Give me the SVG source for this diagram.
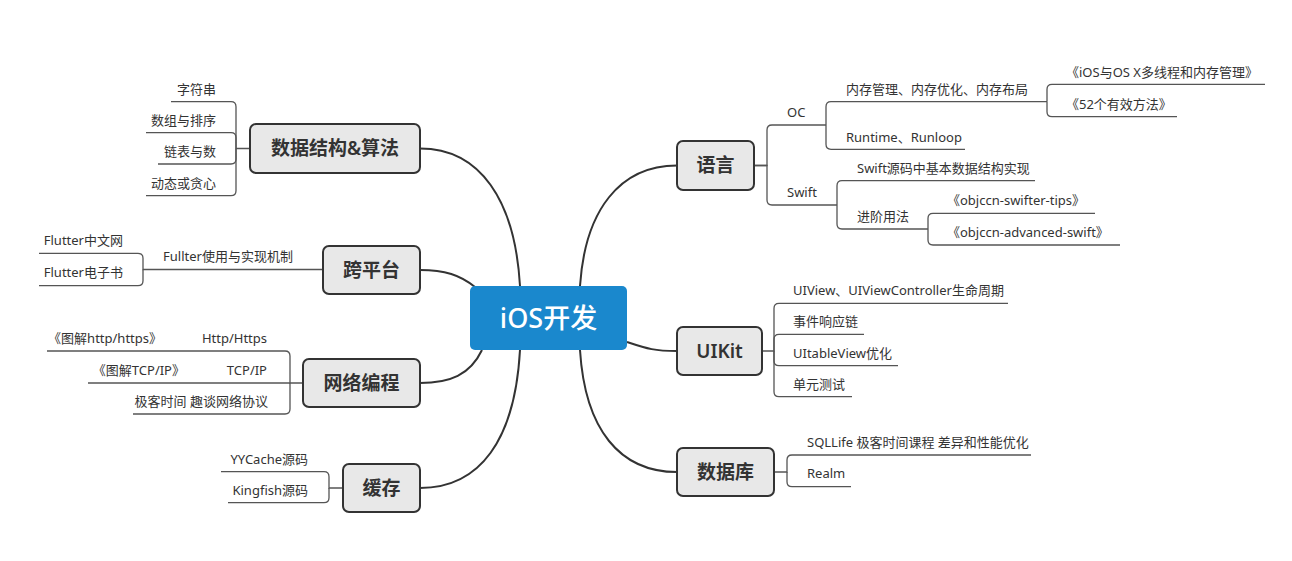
<svg xmlns="http://www.w3.org/2000/svg" width="1292" height="561" viewBox="0 0 1292 561">
<style>
text{font-family:"Noto Sans","Noto Sans CJK SC",sans-serif;fill:#333;}
.sub{font-size:13px;}
.l{text-anchor:end;}
.topic rect{fill:#e8e8e8;stroke:#333;stroke-width:2;}
.topic text{font-size:19px;font-weight:600;text-anchor:middle;}
.main{fill:none;stroke:#333;stroke-width:2;}
.br{fill:none;stroke:#555;stroke-width:1.3;}
</style>
<rect width="1292" height="561" fill="#fff"/>
<g id="connectors">
<path class="main" d="M580,286 C585,210 620,165.5 677,165.5"/>
<path class="main" d="M627,342 C648,349 655,351 677,351"/>
<path class="main" d="M580,350 C585,430 620,472 677,472"/>
<path class="main" d="M520,286 C515,200 480,148.5 420,148.5"/>
<path class="main" d="M475,287 C460,275 445,270 420,270"/>
<path class="main" d="M482,350 C470,375 450,383 420,383"/>
<path class="main" d="M520,350 C515,440 480,488 420,488"/>
<path class="br" d="M754,165.5 H767 V130 Q767,125 772,125 H826"/>
<path class="br" d="M754,165.5 H767 V200 Q767,205 772,205 H837"/>
<path class="br" d="M826,125 V106.7 Q826,101.7 831,101.7 H1047"/>
<path class="br" d="M826,125 V144.3 Q826,149.3 831,149.3 H965"/>
<path class="br" d="M1047,101.7 V89.3 Q1047,84.3 1052,84.3 H1265"/>
<path class="br" d="M1047,101.7 V111.7 Q1047,116.7 1052,116.7 H1177"/>
<path class="br" d="M837,205 V185.7 Q837,180.7 842,180.7 H1035"/>
<path class="br" d="M837,205 V224 Q837,229 842,229 H928"/>
<path class="br" d="M928,229 V218.3 Q928,213.3 933,213.3 H1095"/>
<path class="br" d="M928,229 V240 Q928,245 933,245 H1120"/>
<path class="br" d="M762,351 H774 V308.3 Q774,303.3 779,303.3 H1008"/>
<path class="br" d="M774,351 V339.3 Q774,334.3 779,334.3 H864"/>
<path class="br" d="M774,351 V360.7 Q774,365.7 779,365.7 H898"/>
<path class="br" d="M774,351 V391.7 Q774,396.7 779,396.7 H852"/>
<path class="br" d="M774,472 H787 V460 Q787,455 792,455 H1031"/>
<path class="br" d="M787,472 V481.7 Q787,486.7 792,486.7 H851"/>
<path class="br" d="M250,148.5 H236 V106.7 Q236,101.7 231,101.7 H171"/>
<path class="br" d="M236,148.5 V137.7 Q236,132.7 231,132.7 H146"/>
<path class="br" d="M236,148.5 V159 Q236,164 231,164 H158"/>
<path class="br" d="M236,148.5 V190.7 Q236,195.7 231,195.7 H146"/>
<path class="br" d="M323,269.5 H143 V258.3 Q143,253.3 138,253.3 H39"/>
<path class="br" d="M143,269.5 V280.7 Q143,285.7 138,285.7 H39"/>
<path class="br" d="M303,383 H290 V356 Q290,351 285,351 H47"/>
<path class="br" d="M290,383 H88"/>
<path class="br" d="M290,383 V409 Q290,414 285,414 H133"/>
<path class="br" d="M343,488 H329 V476.7 Q329,471.7 324,471.7 H221"/>
<path class="br" d="M329,488 V497.7 Q329,502.7 324,502.7 H228"/>
</g>
<g id="root">
<rect x="470" y="286" width="157" height="64" rx="5" fill="#1a88cd"/>
<text x="548.5" y="327.5" style="font-size:27px;font-weight:500;fill:#fff;text-anchor:middle;">iOS开发</text>
</g>
<g id="yuyan" class="topic"><rect x="677" y="141" width="77" height="49" rx="6"/><text x="715.5" y="172">语言</text></g>
<g id="uikit" class="topic"><rect x="677" y="327" width="85" height="48" rx="6"/><text x="719.5" y="357.5">UIKit</text></g>
<g id="shujuku" class="topic"><rect x="677" y="448" width="97" height="48" rx="6"/><text x="725.5" y="478.5">数据库</text></g>
<g id="shujujiegou" class="topic"><rect x="250" y="124" width="170" height="49" rx="6"/><text x="335" y="155">数据结构&amp;算法</text></g>
<g id="kuapingtai" class="topic"><rect x="323" y="246" width="97" height="48" rx="6"/><text x="371.5" y="276.5">跨平台</text></g>
<g id="wangluo" class="topic"><rect x="303" y="359" width="117" height="48" rx="6"/><text x="361.5" y="389.5">网络编程</text></g>
<g id="huancun" class="topic"><rect x="343" y="464" width="77" height="48" rx="6"/><text x="381.5" y="494.5">缓存</text></g>
<g id="yuyan-sub">
<text x="787" y="117" class="sub">OC</text>
<text x="787" y="197" class="sub">Swift</text>
<text x="846" y="93.5" class="sub">内存管理、内存优化、内存布局</text>
<text x="846" y="141.5" class="sub">Runtime、Runloop</text>
<text x="1066" y="76.5" class="sub">《iOS与OS X多线程和内存管理》</text>
<text x="1066" y="108.5" class="sub">《52个有效方法》</text>
<text x="857" y="172.5" class="sub">Swift源码中基本数据结构实现</text>
<text x="857" y="221" class="sub">进阶用法</text>
<text x="947" y="205" class="sub">《objccn-swifter-tips》</text>
<text x="947" y="237" class="sub">《objccn-advanced-swift》</text>
</g>
<g id="uikit-sub">
<text x="793" y="295" class="sub">UIView、UIViewController生命周期</text>
<text x="793" y="326" class="sub">事件响应链</text>
<text x="793" y="357.5" class="sub">UItableView优化</text>
<text x="793" y="388.5" class="sub">单元测试</text>
</g>
<g id="shujuku-sub">
<text x="807" y="446.5" class="sub">SQLLife 极客时间课程 差异和性能优化</text>
<text x="807" y="478" class="sub">Realm</text>
</g>
<g id="shujujiegou-sub">
<text x="216" y="93.5" class="sub l">字符串</text>
<text x="216" y="124.5" class="sub l">数组与排序</text>
<text x="216" y="155.5" class="sub l">链表与数</text>
<text x="216" y="187.5" class="sub l">动态或贪心</text>
</g>
<g id="kuapingtai-sub">
<text x="163" y="261" class="sub">Fullter使用与实现机制</text>
<text x="123" y="245" class="sub l">Flutter中文网</text>
<text x="123" y="277" class="sub l">Flutter电子书</text>
</g>
<g id="wangluo-sub">
<text x="267" y="343" class="sub l">Http/Https</text>
<text x="162" y="343" class="sub l">《图解http/https》</text>
<text x="267" y="374.5" class="sub l">TCP/IP</text>
<text x="185" y="374.5" class="sub l">《图解TCP/IP》</text>
<text x="268" y="405.5" class="sub l">极客时间 趣谈网络协议</text>
</g>
<g id="huancun-sub">
<text x="308" y="463.5" class="sub l">YYCache源码</text>
<text x="308" y="495" class="sub l">Kingfish源码</text>
</g>
</svg>
